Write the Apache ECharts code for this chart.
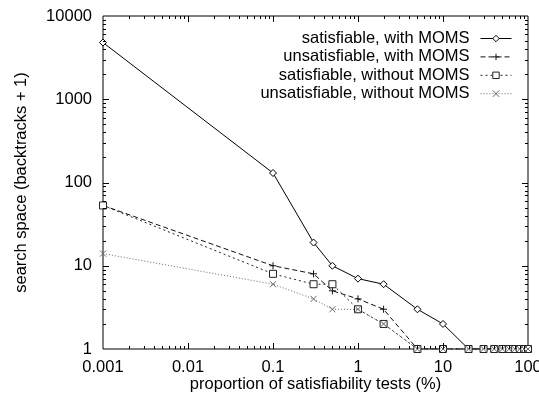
<!DOCTYPE html>
<html>
<head>
<meta charset="utf-8">
<script src="https://cdn.jsdelivr.net/npm/echarts@6/dist/echarts.min.js"></script>
<style>
  html, body { margin: 0; padding: 0; background: #fff; }
  #chart { width: 539px; height: 394px; }
</style>
</head>
<body>
<div id="chart"></div>
<script>
// Proportion of satisfiability tests (%) at which each run was measured
const proportions = [0.001, 0.1, 0.3, 0.5, 1, 2, 5, 10, 20, 30, 40, 50, 60, 70, 80, 90, 100];

// Search space (backtracks + 1)
const satWithMoms      = [4800, 130, 19, 10, 7, 6, 3, 2, 1, 1, 1, 1, 1, 1, 1, 1, 1];
const unsatWithMoms    = [53, 10, 8, 5, 4, 3, 1, 1, 1, 1, 1, 1, 1, 1, 1, 1, 1];
const satWithoutMoms   = [53, 8, 6, 6, 3, 2, 1, 1, 1, 1, 1, 1, 1, 1, 1, 1, 1];
const unsatWithoutMoms = [14, 6, 4, 3, 3, 2, 1, 1, 1, 1, 1, 1, 1, 1, 1, 1, 1];

const seriesNames = [
  'satisfiable, with MOMS',
  'unsatisfiable, with MOMS',
  'satisfiable, without MOMS',
  'unsatisfiable, without MOMS'
];

const xTickValues = [0.001, 0.01, 0.1, 1, 10, 100];
const xTickLabels = ['0.001', '0.01', '0.1', '1', '10', '100'];
const yTickValues = [1, 10, 100, 1000, 10000];
const yTickLabels = ['1', '10', '100', '1000', '10000'];

const xTitle = 'proportion of satisfiability tests (%)';
const yTitle = 'search space (backtracks + 1)';

// minor ticks at 2..9 within each decade
function minorTicks(decades) {
  const out = [];
  for (let i = 0; i < decades.length - 1; i++) {
    for (let m = 2; m <= 9; m++) out.push(+(m * decades[i]).toPrecision(6));
  }
  return out;
}

function labelFor(values, labels) {
  return function (v) {
    for (let i = 0; i < values.length; i++) {
      if (Math.abs(Math.log10(values[i]) - Math.log10(v)) < 1e-6) return labels[i];
    }
    return '';
  };
}

const FONT = 'Liberation Sans';
const BLACK = '#000';
const TICK_FONT = 16.5;
const MAJOR_LEN = 6;
const MINOR_LEN = 3;

const plusPath = 'path://M0,5L10,5M5,0L5,10';
const crossPath = 'path://M0,0L10,10M10,0L0,10';

function pairs(values) {
  return proportions.map((p, i) => [p, values[i]]);
}

// hollow markers are white-filled shapes with a thin outline
const seriesDefs = [
  { values: satWithMoms,      symbol: 'diamond', size: 7, dash: 'solid', color: '#000', fill: '#fff' },
  { values: unsatWithMoms,    symbol: plusPath,  size: 7, dash: [5, 3],  color: '#111', fill: '#111' },
  { values: satWithoutMoms,   symbol: 'rect',    size: 7, dash: [2, 3],  color: '#222', fill: '#fff' },
  { values: unsatWithoutMoms, symbol: crossPath, size: 6, dash: [1, 2],  color: '#666', fill: '#666' }
];

const series = seriesDefs.map((d, i) => ({
  name: seriesNames[i],
  type: 'line',
  data: pairs(d.values),
  symbol: d.symbol,
  symbolSize: d.size,
  showAllSymbol: true,
  lineStyle: { color: d.color, width: 1, type: d.dash },
  itemStyle: { color: d.fill, borderColor: d.color, borderWidth: 1 },
  z: 2 + i
}));

const legendData = seriesDefs.map((d, i) => ({
  name: seriesNames[i],
  itemStyle: { color: d.fill, borderColor: d.color, borderWidth: 1 },
  lineStyle: { color: d.color, width: 1, type: d.dash }
}));

const chart = echarts.init(document.getElementById('chart'), null, { renderer: 'canvas' });
chart.setOption({
  backgroundColor: '#fff',
  animation: false,
  grid: {
    left: 103, right: 11, top: 16, bottom: 45,
    outerBoundsMode: 'none',
    containLabel: false,
    show: true, borderColor: BLACK, borderWidth: 1, backgroundColor: 'transparent'
  },
  legend: {
    orient: 'vertical',
    right: 27,
    top: 30,
    padding: 0,
    align: 'right',
    itemWidth: 31,
    itemHeight: 8,
    itemGap: 1.4,
    selectedMode: false,
    textStyle: { color: BLACK, fontFamily: FONT, fontSize: 16.5, lineHeight: 16, padding: [0, 6, 0, 0] },
    data: legendData
  },
  xAxis: {
    type: 'log',
    logBase: 10,
    min: xTickValues[0],
    max: xTickValues[xTickValues.length - 1],
    axisLine: { show: false },
    axisTick: { show: false },
    splitLine: { show: false },
    axisLabel: {
      customValues: xTickValues,
      formatter: labelFor(xTickValues, xTickLabels),
      color: BLACK, fontFamily: FONT, fontSize: TICK_FONT, margin: 10
    },
    name: xTitle,
    nameLocation: 'middle',
    nameGap: 27,
    nameMoveOverlap: false,
    nameTextStyle: { color: BLACK, fontFamily: FONT, fontSize: 16.5 }
  },
  yAxis: {
    type: 'log',
    logBase: 10,
    min: yTickValues[0],
    max: yTickValues[yTickValues.length - 1],
    axisLine: { show: false },
    axisTick: { show: false },
    splitLine: { show: false },
    axisLabel: {
      customValues: yTickValues,
      formatter: labelFor(yTickValues, yTickLabels),
      color: BLACK, fontFamily: FONT, fontSize: TICK_FONT, margin: 11
    },
    name: yTitle,
    nameLocation: 'middle',
    nameGap: 73,
    nameRotate: 90,
    nameMoveOverlap: false,
    nameTextStyle: { color: BLACK, fontFamily: FONT, fontSize: 16.5 }
  },
  series: series
});

// Inward ticks on all four sides of the frame, placed through the axis scales
function buildTicks() {
  const px = v => chart.convertToPixel({ xAxisIndex: 0 }, v);
  const py = v => chart.convertToPixel({ yAxisIndex: 0 }, v);
  const left = px(xTickValues[0]);
  const right = px(xTickValues[xTickValues.length - 1]);
  const bottom = py(yTickValues[0]);
  const top = py(yTickValues[yTickValues.length - 1]);
  const crisp = v => Math.round(v) + 0.5;
  const els = [];
  const seg = (x1, y1, x2, y2) => els.push({
    type: 'line', silent: true, z: 10,
    shape: { x1: x1, y1: y1, x2: x2, y2: y2 },
    style: { stroke: BLACK, lineWidth: 1 }
  });
  const addX = (vals, len) => vals.forEach(v => {
    const x = crisp(px(v));
    seg(x, bottom, x, bottom - len);
    seg(x, top, x, top + len);
  });
  const addY = (vals, len) => vals.forEach(v => {
    const y = crisp(py(v));
    seg(left, y, left + len, y);
    seg(right, y, right - len, y);
  });
  addX(xTickValues.slice(1, -1), MAJOR_LEN);
  addX(minorTicks(xTickValues), MINOR_LEN);
  addY(yTickValues.slice(1, -1), MAJOR_LEN);
  addY(minorTicks(yTickValues), MINOR_LEN);
  chart.setOption({ graphic: { elements: els } });
}
buildTicks();
</script>
</body>
</html>
